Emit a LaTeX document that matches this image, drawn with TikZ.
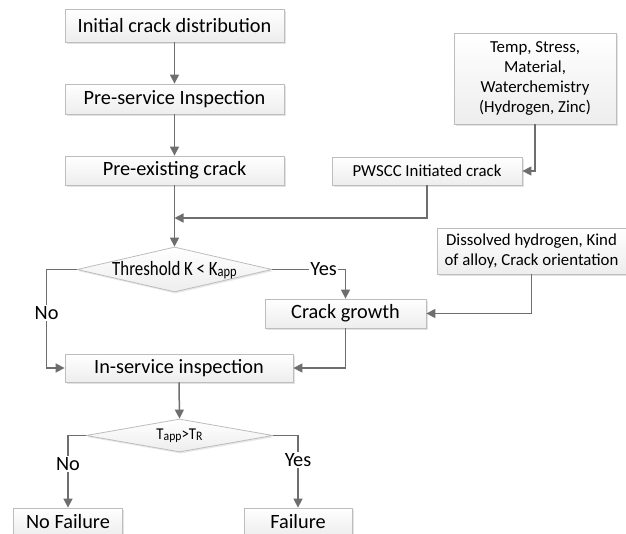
\documentclass[tikz,border=0pt]{standalone}
\usepackage{fontspec}
\setmainfont{Carlito}
\usetikzlibrary{shapes.geometric,arrows.meta,shadows}
\definecolor{linegray}{HTML}{6E6E6E}
\definecolor{boxborder}{HTML}{BDBDBD}
\tikzset{
  stepbox/.style={draw=boxborder, line width=0.8pt, top color=white, bottom color=gray!14,
    inner sep=0pt, align=center, font=\fontsize{20.3}{23}\selectfont,
    drop shadow={shadow xshift=1.6pt, shadow yshift=-1.6pt, opacity=0.22, fill=gray}},
  smallbox/.style={stepbox, font=\fontsize{16.8}{20}\selectfont},
  decide/.style={diamond, draw=boxborder, line width=0.8pt, top color=white, bottom color=gray!14,
    inner sep=0pt,
    drop shadow={shadow xshift=1.2pt, shadow yshift=-1.6pt, opacity=0.18, fill=gray}},
  arr/.style={draw=linegray, line width=1.5pt, -{Triangle[length=9pt,width=9pt]}},
  lab/.style={fill=white, inner sep=1.5pt, font=\fontsize{20.3}{23}\selectfont},
}
\newcommand{\smsub}[2]{\raisebox{-1.2pt}{\fontsize{#1}{#1}\selectfont #2}}
\begin{document}
\begin{tikzpicture}[x=1pt,y=-1pt]
\useasboundingbox (0,0) rectangle (626,534);
\clip (0,0) rectangle (626,534);
\fill[white] (0,0) rectangle (626,534);

\node[stepbox, minimum width=219pt, minimum height=33pt] (b1) at (174.5,25.5) {Initial crack distribution};
\node[stepbox, minimum width=219pt, minimum height=30pt] (b2) at (174.5,99) {Pre-service Inspection};
\node[stepbox, minimum width=219pt, minimum height=29pt] (b3) at (174.5,170.5) {Pre-existing crack};
\node[smallbox, minimum width=162pt, minimum height=91pt] (temp) at (535,78.5) {Temp, Stress,\\Material,\\Waterchemistry\\(Hydrogen, Zinc)};
\node[smallbox, minimum width=190pt, minimum height=28pt] (pw) at (427,171) {PWSCC Initiated crack};
\node[decide, minimum width=195pt, minimum height=45pt] (d1) at (174.5,269.5) {};
\node[inner sep=0pt] (d1t) at (174.5,270) {\scalebox{0.83}[1]{\fontsize{20.3}{23}\selectfont Threshold K {\textless} K\smsub{15}{app}}};
\node[stepbox, minimum width=161pt, minimum height=29pt] (cg) at (345.5,313.5) {Crack growth};
\node[smallbox, minimum width=189pt, minimum height=46pt] (dis) at (531.5,251) {Dissolved hydrogen, Kind\\of alloy, Crack orientation};
\node[stepbox, minimum width=228pt, minimum height=28pt] (ins) at (179,368) {In-service inspection};
\node[decide, minimum width=187pt, minimum height=33pt] (d2) at (179.5,435.5) {};
\node[inner sep=0pt] (d2t) at (179.5,436) {\scalebox{0.9}[1]{\fontsize{16.5}{19}\selectfont T\smsub{13}{app}>T\smsub{13}{R}}};
\node[stepbox, minimum width=109pt, minimum height=28pt] (nf) at (68,522) {No Failure};
\node[stepbox, minimum width=108pt, minimum height=28pt] (fail) at (298,522) {Failure};

\coordinate (m) at (174.5,218);

\draw[arr] (b1.south) -- (b2.north);
\draw[arr] (b2.south) -- (b3.north);
\draw[arr] (b3.south) -- (d1.north);
\draw[arr] (temp.south) |- (pw.east);
\draw[arr] (pw.south) |- (m);
\draw[arr] (d1.east) -| node[lab, pos=0.35] (yes1) {Yes} (cg.north);
\draw[arr] (d1.west) -- ++(-30,0) |- node[lab, pos=0.22] (no1) {No} (ins.west);
\draw[arr] (dis.south) |- (cg.east);
\draw[arr] (cg.south) |- (ins.east);
\draw[arr] (ins.south) -- (d2.north);
\draw[arr] (d2.west) -| node[lab, pos=0.7] (no2) {No} (nf.north);
\draw[arr] (d2.east) -| node[lab, pos=0.67] (yes2) {Yes} (fail.north);
\end{tikzpicture}
\end{document}
